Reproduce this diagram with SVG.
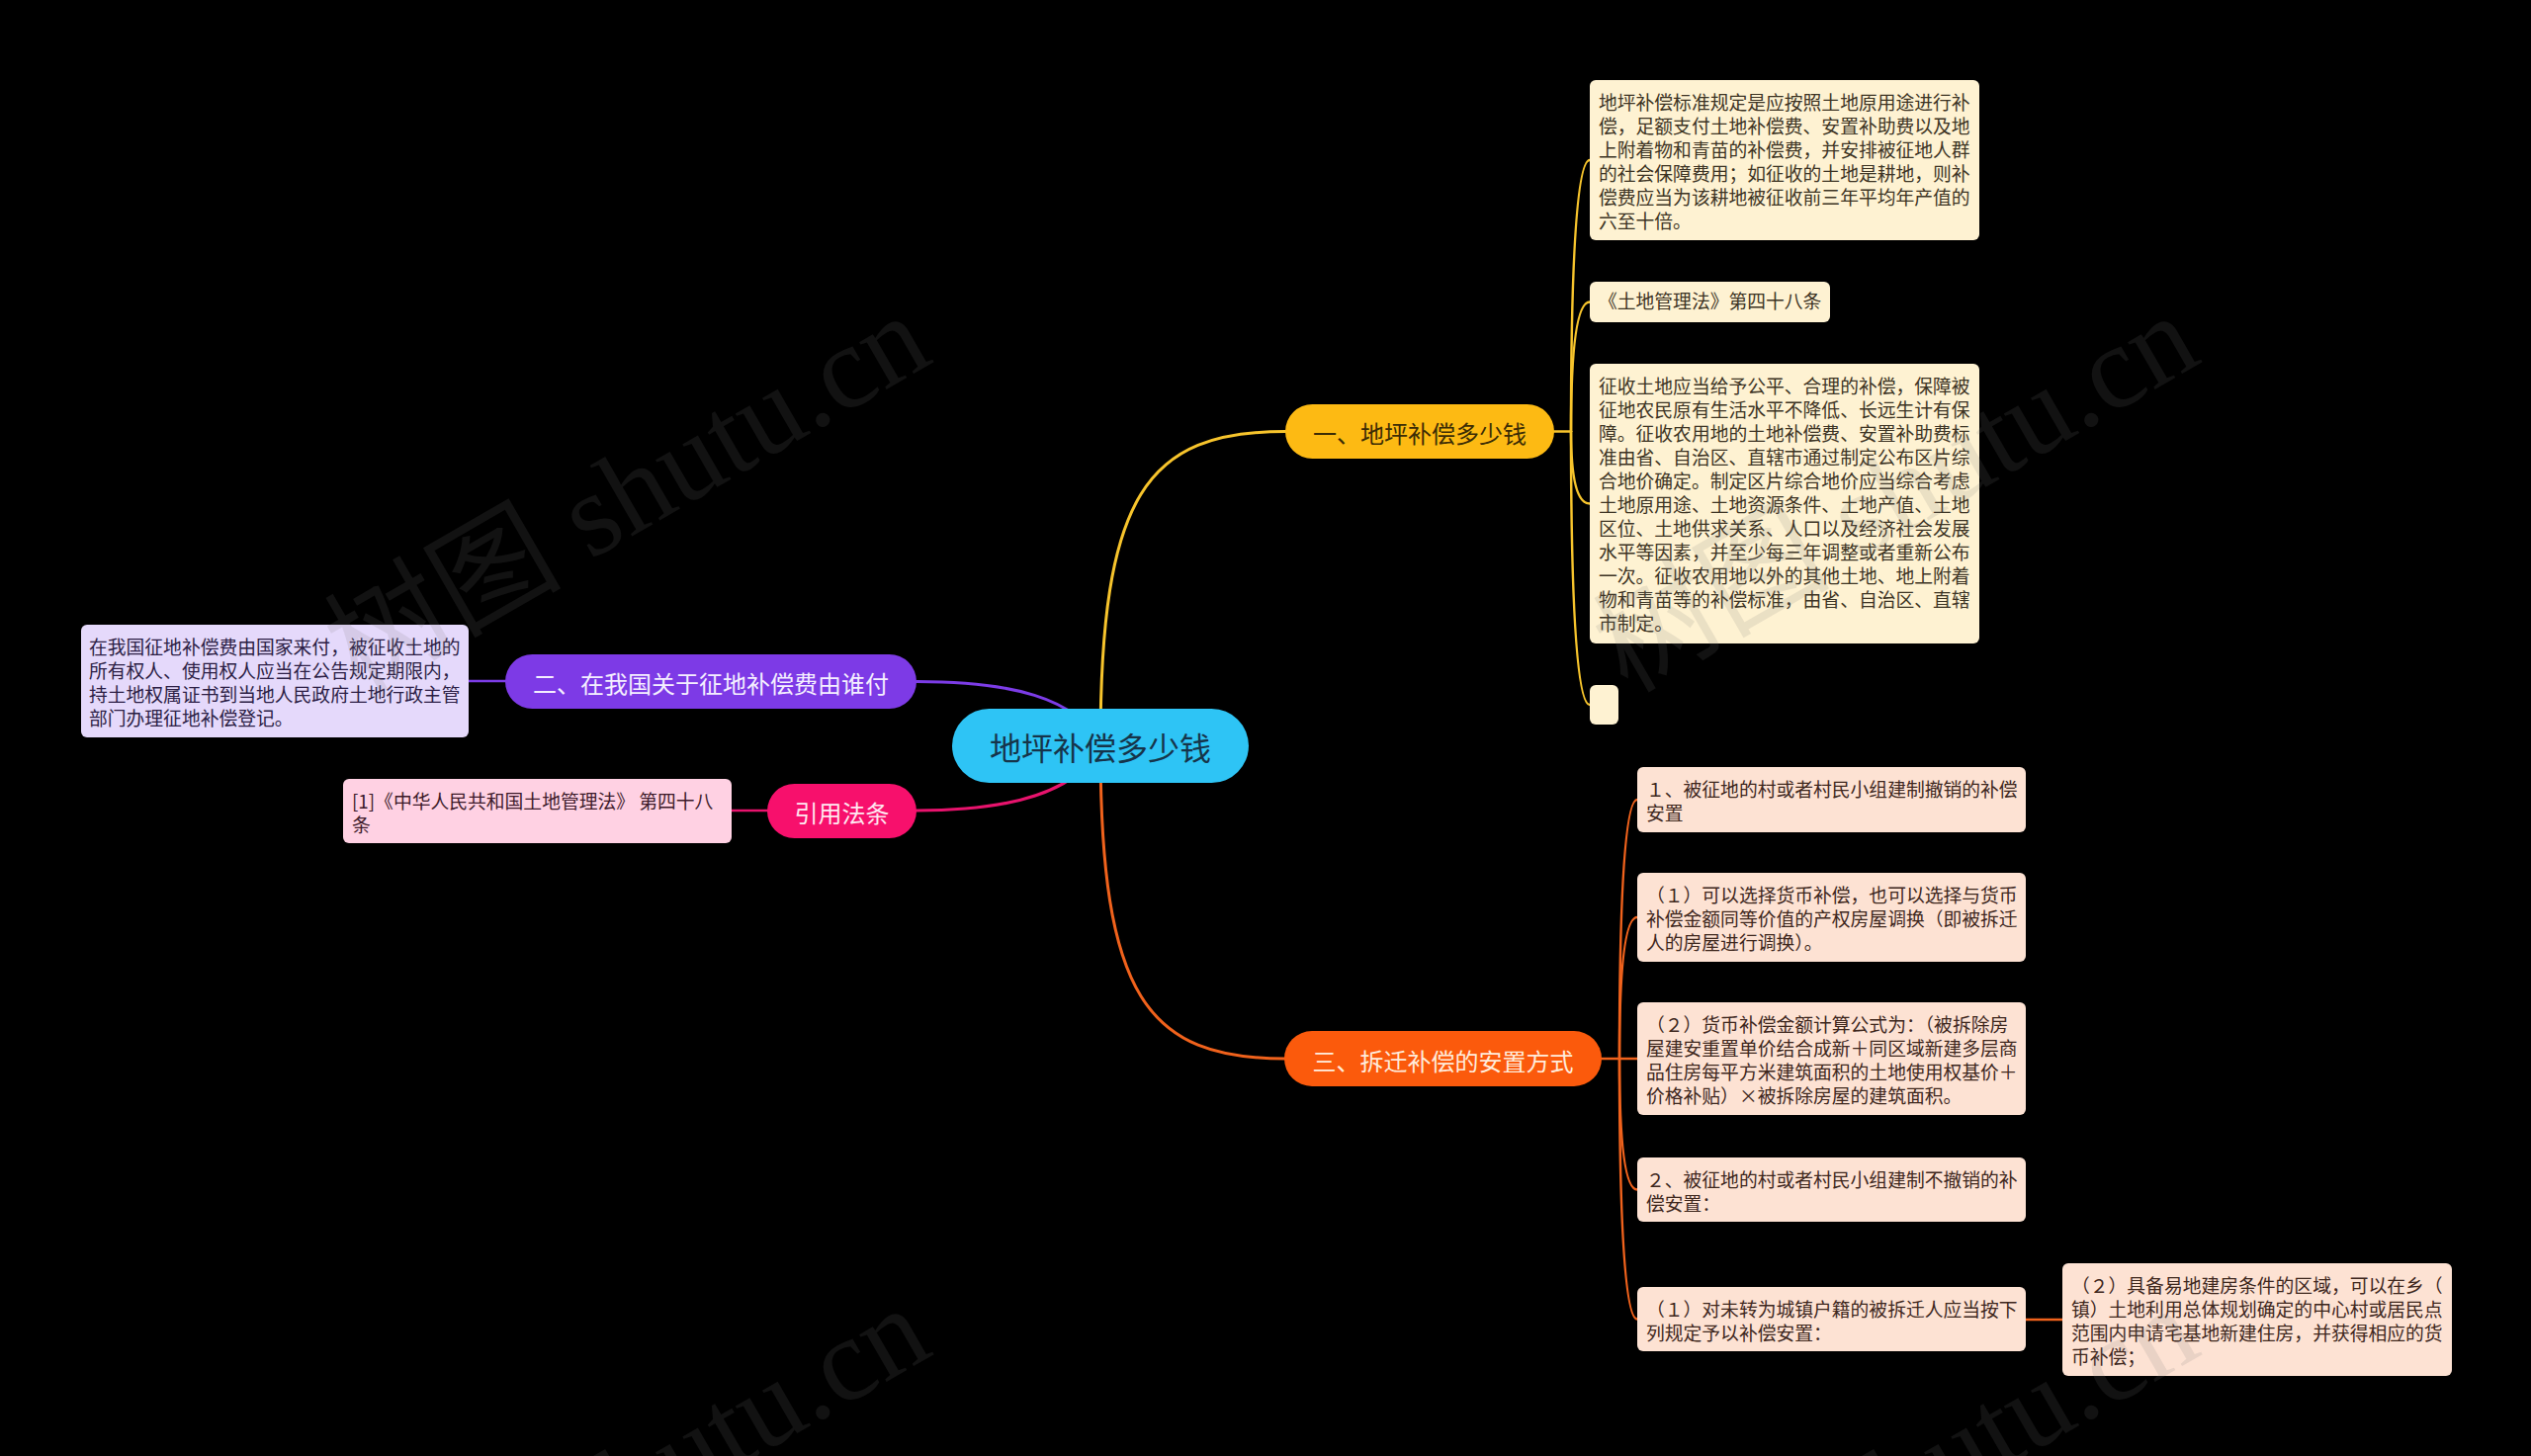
<svg xmlns="http://www.w3.org/2000/svg" width="2560" height="1473" viewBox="0 0 2560 1473">
<style>
  text { font-family: "Noto Sans CJK SC", "Liberation Sans", sans-serif; }
  .leaf { font-size: 18.8px; }
  .br { font-size: 24px; text-anchor: middle; dominant-baseline: central; }
  .root { font-size: 32px; text-anchor: middle; dominant-baseline: central; fill: #16344a; }
  .c { fill: none; stroke-linecap: round; }
  .cy { stroke: #f7c42c; }
  .co { stroke: #f0621c; }
  .cp { stroke: #7c3ce6; }
  .ck { stroke: #e8136d; }
  .w1 { stroke-width: 3; }
  .w2 { stroke-width: 2.5; }
  .ly { fill: #fef2d2; }
  .lo { fill: #fde2d3; }
  .tly { fill: #3d3424; }
  .tlo { fill: #3e271d; }
  .wm { font-family: "Liberation Serif", "Noto Sans CJK SC", serif; font-size: 120px; fill: #787878; fill-opacity: 0.15; }
</style>
<rect x="0" y="0" width="2560" height="1473" fill="#000000"/>

<g id="connectors">
  <path class="c cy w1" d="M1113 754 C1113 500 1160 436.5 1300 436.5"/>
  <path class="c co w1" d="M1113 754 C1113 1008 1160 1071 1300 1071"/>
  <path class="c cp w1" d="M1113 754 C1090 705 1020 689.5 927 689.5"/>
  <path class="c ck w1" d="M1113 754 C1090 803 1020 820 927 820"/>
  <path class="c cp w2" d="M511 689 L474 689"/>
  <path class="c ck w2" d="M776 820 L740 820"/>
  <path class="c cy w2" d="M1572 436.5 L1589 436.5"/>
  <path class="c cy w2" d="M1589 436.5 Q1589 162 1608 162"/>
  <path class="c cy w2" d="M1589 436.5 Q1589 305.5 1608 305.5"/>
  <path class="c cy w2" d="M1589 436.5 Q1589 509.5 1608 509.5"/>
  <path class="c cy w2" d="M1589 436.5 Q1589 713 1608 713"/>
  <path class="c co w2" d="M1620 1071 L1638 1071"/>
  <path class="c co w2" d="M1638 1071 Q1638 809 1656 809"/>
  <path class="c co w2" d="M1638 1071 Q1638 928 1656 928"/>
  <path class="c co w2" d="M1638 1071 L1656 1071"/>
  <path class="c co w2" d="M1638 1071 Q1638 1203.5 1656 1203.5"/>
  <path class="c co w2" d="M1638 1071 Q1638 1334.5 1656 1334.5"/>
  <path class="c co w2" d="M2049 1335 L2086 1335"/>
</g>

<g id="root">
  <rect x="963" y="717" width="300" height="75" rx="37.5" fill="#2ec4f5"/>
  <text class="root" x="1113" y="755">地坪补偿多少钱</text>
</g>

<g id="branch1">
  <rect x="1300" y="409" width="272" height="55" rx="27.5" fill="#fdba13"/>
  <text class="br" x="1436" y="437" fill="#3b2c05">一、地坪补偿多少钱</text>
</g>
<g id="branch2">
  <rect x="511" y="662" width="416" height="55" rx="27.5" fill="#7d3ae6"/>
  <text class="br" x="719" y="690" fill="#f4eeff">二、在我国关于征地补偿费由谁付</text>
</g>
<g id="branch-cite">
  <rect x="776" y="793" width="151" height="55" rx="27.5" fill="#f7106c"/>
  <text class="br" x="851.5" y="821" fill="#ffe8f1">引用法条</text>
</g>
<g id="branch3">
  <rect x="1299" y="1043" width="321" height="56" rx="28" fill="#fb5a0c"/>
  <text class="br" x="1459.5" y="1072" fill="#ffecdc">三、拆迁补偿的安置方式</text>
</g>

<g id="leaf-1a">
  <rect class="ly" x="1608" y="81" width="394" height="162" rx="6"/>
  <text class="leaf tly" x="1617" y="111">
    <tspan x="1617" dy="0">地坪补偿标准规定是应按照土地原用途进行补</tspan>
    <tspan x="1617" dy="24">偿，足额支付土地补偿费、安置补助费以及地</tspan>
    <tspan x="1617" dy="24">上附着物和青苗的补偿费，并安排被征地人群</tspan>
    <tspan x="1617" dy="24">的社会保障费用；如征收的土地是耕地，则补</tspan>
    <tspan x="1617" dy="24">偿费应当为该耕地被征收前三年平均年产值的</tspan>
    <tspan x="1617" dy="24">六至十倍。</tspan>
  </text>
</g>
<g id="leaf-1b">
  <rect class="ly" x="1608" y="285" width="243" height="41" rx="6"/>
  <text class="leaf tly" x="1617" y="312">《土地管理法》第四十八条</text>
</g>
<g id="leaf-1c">
  <rect class="ly" x="1608" y="368" width="394" height="283" rx="6"/>
  <text class="leaf tly" x="1617" y="398">
    <tspan x="1617" dy="0">征收土地应当给予公平、合理的补偿，保障被</tspan>
    <tspan x="1617" dy="24">征地农民原有生活水平不降低、长远生计有保</tspan>
    <tspan x="1617" dy="24">障。征收农用地的土地补偿费、安置补助费标</tspan>
    <tspan x="1617" dy="24">准由省、自治区、直辖市通过制定公布区片综</tspan>
    <tspan x="1617" dy="24">合地价确定。制定区片综合地价应当综合考虑</tspan>
    <tspan x="1617" dy="24">土地原用途、土地资源条件、土地产值、土地</tspan>
    <tspan x="1617" dy="24">区位、土地供求关系、人口以及经济社会发展</tspan>
    <tspan x="1617" dy="24">水平等因素，并至少每三年调整或者重新公布</tspan>
    <tspan x="1617" dy="24">一次。征收农用地以外的其他土地、地上附着</tspan>
    <tspan x="1617" dy="24">物和青苗等的补偿标准，由省、自治区、直辖</tspan>
    <tspan x="1617" dy="24">市制定。</tspan>
  </text>
</g>
<g id="leaf-1d">
  <rect class="ly" x="1608" y="693" width="29" height="40" rx="6"/>
</g>

<g id="leaf-3a">
  <rect class="lo" x="1656" y="776" width="393" height="66" rx="6"/>
  <text class="leaf tlo" x="1665" y="806">
    <tspan x="1665" dy="0">１、被征地的村或者村民小组建制撤销的补偿</tspan>
    <tspan x="1665" dy="24">安置</tspan>
  </text>
</g>
<g id="leaf-3b">
  <rect class="lo" x="1656" y="883" width="393" height="90" rx="6"/>
  <text class="leaf tlo" x="1665" y="913">
    <tspan x="1665" dy="0">（１）可以选择货币补偿，也可以选择与货币</tspan>
    <tspan x="1665" dy="24">补偿金额同等价值的产权房屋调换（即被拆迁</tspan>
    <tspan x="1665" dy="24">人的房屋进行调换）。</tspan>
  </text>
</g>
<g id="leaf-3c">
  <rect class="lo" x="1656" y="1014" width="393" height="114" rx="6"/>
  <text class="leaf tlo" x="1665" y="1044">
    <tspan x="1665" dy="0">（２）货币补偿金额计算公式为：（被拆除房</tspan>
    <tspan x="1665" dy="24">屋建安重置单价结合成新＋同区域新建多层商</tspan>
    <tspan x="1665" dy="24">品住房每平方米建筑面积的土地使用权基价＋</tspan>
    <tspan x="1665" dy="24">价格补贴）×被拆除房屋的建筑面积。</tspan>
  </text>
</g>
<g id="leaf-3d">
  <rect class="lo" x="1656" y="1171" width="393" height="65" rx="6"/>
  <text class="leaf tlo" x="1665" y="1201">
    <tspan x="1665" dy="0">２、被征地的村或者村民小组建制不撤销的补</tspan>
    <tspan x="1665" dy="24">偿安置：</tspan>
  </text>
</g>
<g id="leaf-3e">
  <rect class="lo" x="1656" y="1302" width="393" height="65" rx="6"/>
  <text class="leaf tlo" x="1665" y="1332">
    <tspan x="1665" dy="0">（１）对未转为城镇户籍的被拆迁人应当按下</tspan>
    <tspan x="1665" dy="24">列规定予以补偿安置：</tspan>
  </text>
</g>
<g id="leaf-3f">
  <rect class="lo" x="2086" y="1278" width="394" height="114" rx="6"/>
  <text class="leaf tlo" x="2095" y="1308">
    <tspan x="2095" dy="0">（２）具备易地建房条件的区域，可以在乡（</tspan>
    <tspan x="2095" dy="24">镇）土地利用总体规划确定的中心村或居民点</tspan>
    <tspan x="2095" dy="24">范围内申请宅基地新建住房，并获得相应的货</tspan>
    <tspan x="2095" dy="24">币补偿；</tspan>
  </text>
</g>

<g id="leaf-2">
  <rect x="82" y="632" width="392" height="114" rx="6" fill="#e5d9fb"/>
  <text class="leaf" x="90" y="662" fill="#2c1e45">
    <tspan x="90" dy="0">在我国征地补偿费由国家来付，被征收土地的</tspan>
    <tspan x="90" dy="24">所有权人、使用权人应当在公告规定期限内，</tspan>
    <tspan x="90" dy="24">持土地权属证书到当地人民政府土地行政主管</tspan>
    <tspan x="90" dy="24">部门办理征地补偿登记。</tspan>
  </text>
</g>
<g id="leaf-cite">
  <rect x="347" y="788" width="393" height="65" rx="6" fill="#ffd1e3"/>
  <text class="leaf" x="356" y="818" fill="#3d1a2a">
    <tspan x="356" dy="0">[1]《中华人民共和国土地管理法》 第四十八</tspan>
    <tspan x="356" dy="24">条</tspan>
  </text>
</g>

<g id="watermark">
  <text class="wm" transform="translate(363 702) rotate(-30)">树图 shutu.cn</text>
  <text class="wm" transform="translate(1646 702) rotate(-30)">树图 shutu.cn</text>
  <text class="wm" transform="translate(363 1706) rotate(-30)">树图 shutu.cn</text>
  <text class="wm" transform="translate(1646 1706) rotate(-30)">树图 shutu.cn</text>
</g>
</svg>
